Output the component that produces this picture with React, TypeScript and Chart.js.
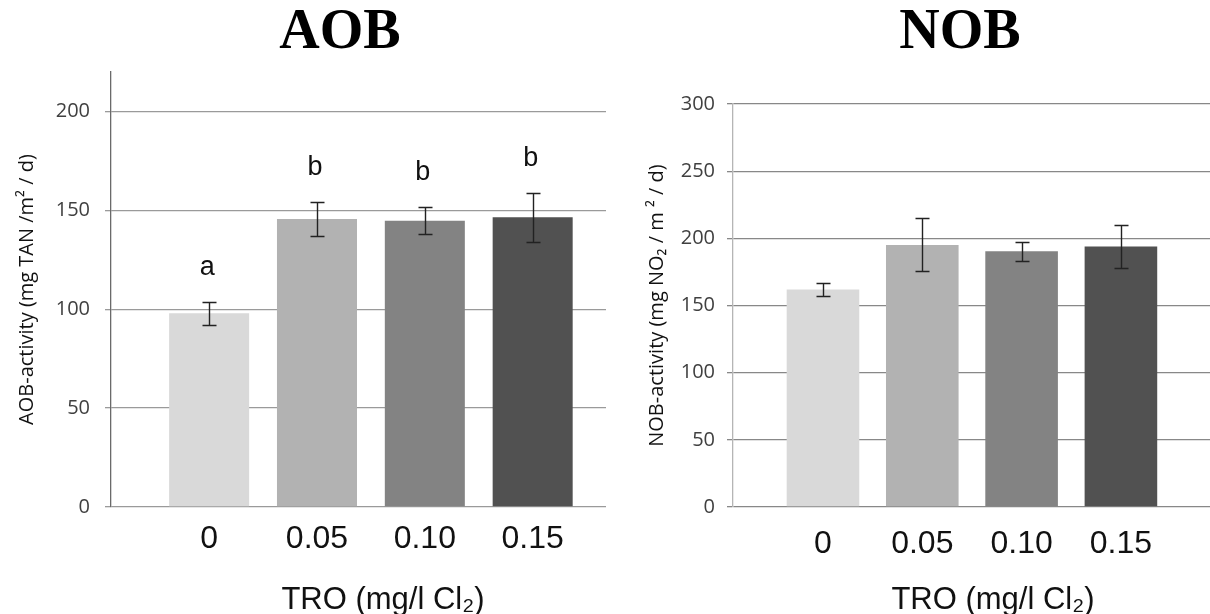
import React, { useEffect, useRef } from "react";
import { Chart, registerables } from "chart.js";

Chart.register(...registerables);

// ---- data ----
const categories = ["0", "0.05", "0.10", "0.15"];
const barColors = ["#D9D9D9", "#B2B2B2", "#838383", "#515151"];

const aobValues = [98.0, 145.7, 144.8, 146.5];
const aobErrors = [5.8, 8.6, 6.9, 12.3];
const aobLetters = ["a", "b", "b", "b"];

const nobValues = [162.0, 195.1, 190.3, 194.0];
const nobErrors = [5.0, 19.7, 7.2, 15.9];
const nobLetters: string[] = [];

const xAxisTitle = "TRO (mg/l Cl\u2082)";
const aobTitle = "AOB";
const nobTitle = "NOB";
const aobYTitle = "AOB-activity (mg TAN /m\u00B2 / d)";
const nobYTitle = "NOB-activity (mg NO\u2082 / m \u00B2 / d)";

const decorPlugin = {
  id: "decor",
  afterDatasetsDraw(chart: any, _args: any, opts: any) {
    const ctx = chart.ctx;
    const yScale = chart.scales.y;
    const meta = chart.getDatasetMeta(0);
    const data = chart.data.datasets[0].data as any[];
    ctx.save();
    // error bars
    ctx.strokeStyle = "#222222";
    ctx.lineWidth = 1.4;
    meta.data.forEach((bar: any, i: number) => {
      const v = data[i].y;
      const e = opts.errors[i];
      const x = Math.round(bar.x) + 0.5;
      const yT = Math.round(yScale.getPixelForValue(v + e)) + 0.5;
      const yB = Math.round(yScale.getPixelForValue(v - e)) + 0.5;
      ctx.beginPath();
      ctx.moveTo(x, yT);
      ctx.lineTo(x, yB);
      ctx.moveTo(x - 7, yT);
      ctx.lineTo(x + 7, yT);
      ctx.moveTo(x - 7, yB);
      ctx.lineTo(x + 7, yB);
      ctx.stroke();
      const letter = opts.letters[i];
      if (letter) {
        ctx.fillStyle = "#111111";
        ctx.font = "27px 'Liberation Sans', Arial, sans-serif";
        ctx.textAlign = "center";
        ctx.textBaseline = "middle";
        ctx.fillText(letter, bar.x - 2, yT - 35);
      }
    });
    // main title
    ctx.fillStyle = "#000000";
    ctx.font = "bold 56px 'Liberation Serif', 'Times New Roman', serif";
    ctx.textAlign = "center";
    ctx.textBaseline = "middle";
    ctx.fillText(opts.title, opts.titleX, opts.titleY);
    // x axis title
    ctx.font = "31px 'Liberation Sans', Arial, sans-serif";
    ctx.fillStyle = "#111111";
    ctx.fillText(opts.xTitle, opts.xTitleX, opts.xTitleY);
    ctx.restore();
  },
};

type PanelProps = {
  left: number;
  width: number;
  values: number[];
  errors: number[];
  letters: string[];
  title: string;
  yTitle: string;
  yMax: number;
  xMin: number;
  xMax: number;
  yAxisWidth: number;
  padTop: number;
  padRight: number;
  barPct: number;
  gridColor: string;
  borderColor: string;
  yTickPad: number;
  yTitlePad: number;
  xTickPad: number;
  titleX: number;
};

function Panel(p: PanelProps) {
  const ref = useRef<HTMLCanvasElement | null>(null);
  useEffect(() => {
    if (!ref.current) return;
    const chart = new Chart(ref.current, {
      type: "bar",
      data: {
        datasets: [
          {
            data: categories.map((_, i) => ({ x: i, y: p.values[i] })),
            backgroundColor: barColors,
            borderWidth: 0,
            barPercentage: p.barPct,
            categoryPercentage: 1,
          },
        ],
      },
      options: {
        animation: false,
        responsive: false,
        layout: { padding: { top: p.padTop, right: p.padRight, left: 0, bottom: 0 } },
        plugins: {
          legend: { display: false },
          tooltip: { enabled: false },
          title: { display: false },
          decor: {
            errors: p.errors,
            letters: p.letters,
            title: p.title,
            titleX: p.titleX,
            titleY: 34,
            xTitle: xAxisTitle,
            xTitleX: 383,
            xTitleY: 600,
          },
        } as any,
        scales: {
          x: {
            type: "linear",
            offset: false,
            min: p.xMin,
            max: p.xMax,
            grid: { display: false, offset: false },
            border: { display: false },
            afterBuildTicks: (s: any) => {
              s.ticks = categories.map((_, i) => ({ value: i }));
            },
            afterFit: (s: any) => {
              s.height = 107;
            },
            ticks: {
              autoSkip: false,
              maxRotation: 0,
              padding: p.xTickPad,
              color: "#111111",
              font: { family: "'Liberation Sans', Arial, sans-serif", size: 32 },
              callback: (v: any) => categories[v] ?? "",
            },
          },
          y: {
            type: "linear",
            min: 0,
            max: p.yMax,
            grid: {
              color: p.gridColor,
              lineWidth: 1.3,
              tickLength: 6,
              drawTicks: true,
            },
            border: { display: true, color: p.borderColor, width: 1.3 },
            afterFit: (s: any) => {
              s.width = p.yAxisWidth;
            },
            ticks: {
              stepSize: 50,
              includeBounds: false,
              padding: p.yTickPad,
              color: "#404040",
              font: { family: "'Open Sans', sans-serif", size: 20 },
            },
            title: {
              display: true,
              text: p.yTitle,
              color: "#111111",
              padding: { top: p.yTitlePad, bottom: 0 },
              font: { family: "'Open Sans', sans-serif", size: 20 },
            },
          },
        },
      },
      plugins: [decorPlugin as any],
    });
    return () => chart.destroy();
  }, []);
  return (
    <canvas
      ref={ref}
      width={p.width}
      height={614}
      style={{ position: "absolute", left: p.left, top: 0, width: p.width, height: 614 }}
    />
  );
}

export default function App() {
  return (
    <div
      style={{
        position: "fixed",
        left: 0,
        top: 0,
        width: 1210,
        height: 614,
        background: "#ffffff",
        overflow: "hidden",
      }}
    >
      <Panel
        left={0}
        width={610}
        values={aobValues}
        errors={aobErrors}
        letters={aobLetters}
        title={aobTitle}
        yTitle={aobYTitle}
        yMax={220}
        xMin={-0.91}
        xMax={3.68}
        yAxisWidth={111}
        padTop={72}
        padRight={4}
        barPct={0.742}
        gridColor="#9a9a9a"
        borderColor="#6a6a6a"
        yTickPad={15}
        yTitlePad={15}
        xTickPad={5}
        titleX={340}
      />
      <Panel
        left={610}
        width={600}
        values={nobValues}
        errors={nobErrors}
        letters={nobLetters}
        title={nobTitle}
        yTitle={nobYTitle}
        yMax={300}
        xMin={-0.906}
        xMax={3.897}
        yAxisWidth={123}
        padTop={104}
        padRight={0}
        barPct={0.731}
        gridColor="#888888"
        borderColor="#b5b5b5"
        yTickPad={12}
        yTitlePad={35}
        xTickPad={10}
        titleX={350}
      />
    </div>
  );
}
